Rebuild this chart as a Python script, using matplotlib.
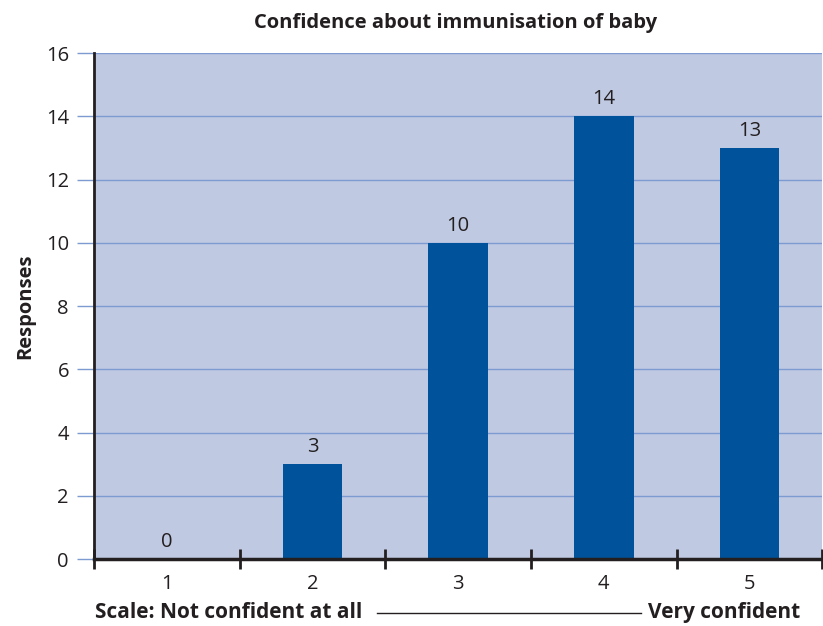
import numpy as np
import matplotlib.pyplot as plt

# datos
categorias = ['1', '2', '3', '4', '5']
respuestas = [0, 3, 10, 14, 13]
yticks = [0, 2, 4, 6, 8, 10, 12, 14, 16]

plt.rcParams['font.family'] = ['Open Sans', 'DejaVu Sans']
texto = '#231F20'
fondo = '#BFC9E2'
barra = '#00539B'
rejilla = '#7D9BD0'

fig = plt.figure(figsize=(8.23, 6.26), dpi=100)
ax = fig.add_axes([0.1142, 0.107, 0.885, 0.808])
ax.set_facecolor(fondo)

x = np.arange(len(categorias))
ax.bar(x, respuestas, width=0.41, color=barra, zorder=3)

# etiquetas de valor
for xi, v in zip(x, respuestas):
    ax.annotate(str(v), (xi, v), xytext=(0, 5), textcoords='offset points',
                ha='center', va='bottom', fontsize=14.5, color=texto)

ax.set_xlim(-0.5, 4.5)
ax.set_ylim(0, 16)

# eje y
ax.set_yticks(yticks)
ax.set_yticklabels([str(t) for t in yticks], fontsize=14.5, color=texto)
ax.tick_params(axis='y', length=12, color=rejilla, width=1, pad=6)
ax.grid(axis='y', color=rejilla, linewidth=1, zorder=1)

# eje x: marcas entre categorias
ax.set_xticks(np.arange(-0.5, 4.6, 1.0))
ax.set_xticklabels([])
ax.set_xticks(x, minor=True)
ax.set_xticklabels(categorias, minor=True, fontsize=14.5, color=texto)
ax.tick_params(axis='x', which='major', direction='inout', length=14, width=2, color='#231F20')
ax.tick_params(axis='x', which='minor', length=0, pad=11)

for s in ['top', 'right']:
    ax.spines[s].set_visible(False)
ax.spines['left'].set_color('#231F20')
ax.spines['left'].set_linewidth(2)
ax.spines['bottom'].set_color('#231F20')
ax.spines['bottom'].set_linewidth(2.5)
ax.spines['bottom'].set_zorder(4)

ax.set_ylabel('Responses', fontsize=14.5, fontweight='bold', color=texto, labelpad=8)
fig.text(0.554, 0.963, 'Confidence about immunisation of baby', ha='center', va='center',
         fontsize=14.5, fontweight='bold', color=texto)

# escala inferior
fig.text(0.116, 0.022, 'Scale: Not confident at all', ha='left', va='center',
         fontsize=15, fontweight='bold', color=texto)
fig.text(0.972, 0.022, 'Very confident', ha='right', va='center',
         fontsize=15, fontweight='bold', color=texto)
fig.add_artist(plt.Line2D([0.458, 0.779], [0.021, 0.021], color=texto, linewidth=1))

fig.savefig('out.png', dpi=100)
